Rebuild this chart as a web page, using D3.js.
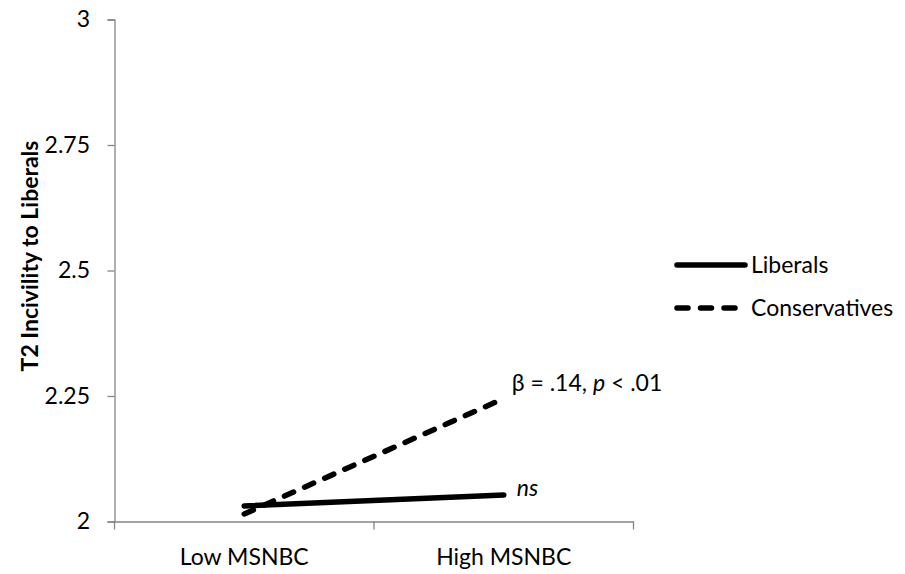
<!DOCTYPE html>
<html><head><meta charset="utf-8">
<script src="https://cdn.jsdelivr.net/npm/d3@7"></script>
<style>body{margin:0;background:#fff;} text{font-family:Lato,"Open Sans",sans-serif;}</style>
</head><body>
<svg id="c" width="905" height="574"></svg>
<script>
const categories = ["Low MSNBC", "High MSNBC"];
const seriesNames = ["Liberals", "Conservatives"];
const liberals = [2.031, 2.053];
const conservatives = [2.015, 2.245];
const yTicks = [2, 2.25, 2.5, 2.75, 3];
const yTickLabels = ["2", "2.25", "2.5", "2.75", "3"];
const annotations = ["ns", "β = .14, p < .01"];

const svg = d3.select("#c");
const axisColor = "#868686";
const FS = 23;
const x = d3.scaleBand().domain(categories).range([114.5, 633.5]);
const y = d3.scaleLinear().domain([2, 3]).range([521.5, 19.5]);

// y axis
const yAxis = svg.append("g").attr("transform","translate(114.5,0)")
  .call(d3.axisLeft(y).tickValues(yTicks).tickFormat((d,i)=>yTickLabels[i]).tickSizeOuter(0).tickSize(7).tickPadding(17.5));
yAxis.select(".domain").attr("stroke", axisColor).attr("stroke-width",1.3);
yAxis.selectAll(".tick line").attr("stroke", axisColor).attr("stroke-width",1.3);
yAxis.selectAll("text").attr("font-size",FS).attr("fill","#000").attr("font-family","Lato");

// x axis
const xAxis = svg.append("g").attr("transform","translate(0,521.5)")
  .call(d3.axisBottom(x).tickSize(0).tickPadding(27));
xAxis.select(".domain").attr("stroke", axisColor).attr("stroke-width",1.3);
xAxis.selectAll("text").attr("font-size",FS).attr("fill","#000").attr("font-family","Lato");
const bounds = [x.range()[0], x(categories[1]), x.range()[1]];
xAxis.selectAll(".bt").data(bounds).enter().append("line")
  .attr("x1",d=>d).attr("x2",d=>d).attr("y1",0).attr("y2",8)
  .attr("stroke",axisColor).attr("stroke-width",1.3);

// y title
svg.append("text").attr("transform","translate(38,256) rotate(-90)")
  .attr("text-anchor","middle").attr("font-size",23).attr("font-weight","bold")
  .text("T2 Incivility to Liberals");

const SW = 5.5;
const line = d3.line().x((d,i)=>x(categories[i]) + x.bandwidth()/2).y(d=>y(d));
svg.append("path").datum(liberals).attr("d",line).attr("fill","none")
  .attr("stroke","#000").attr("stroke-width",SW).attr("stroke-linecap","round");
svg.append("path").datum(conservatives).attr("d",line).attr("fill","none")
  .attr("stroke","#000").attr("stroke-width",SW).attr("stroke-linecap","round")
  .attr("stroke-dasharray","10,12");

// annotations
const xr = x(categories[1]) + x.bandwidth()/2;
svg.append("text").attr("x", xr+13).attr("y", y(liberals[1])+1)
  .attr("font-size",FS).attr("font-style","italic").text(annotations[0]);
const a2 = svg.append("text").attr("x", xr+8).attr("y", y(conservatives[1])-8).attr("font-size",FS);
a2.append("tspan").text("β = .14, ");
a2.append("tspan").attr("font-style","italic").text("p");
a2.append("tspan").text(" < .01");

// legend
const leg = [{n:seriesNames[0], dash:null, y:265},{n:seriesNames[1], dash:"11,12.5", y:308}];
leg.forEach(l=>{
  svg.append("line").attr("x1",677).attr("x2",745).attr("y1",l.y).attr("y2",l.y)
    .attr("stroke","#000").attr("stroke-width",SW).attr("stroke-linecap","round")
    .attr("stroke-dasharray", l.dash);
  svg.append("text").attr("x",751).attr("y",l.y+8).attr("font-size",FS).text(l.n);
});
</script>
</body></html>
